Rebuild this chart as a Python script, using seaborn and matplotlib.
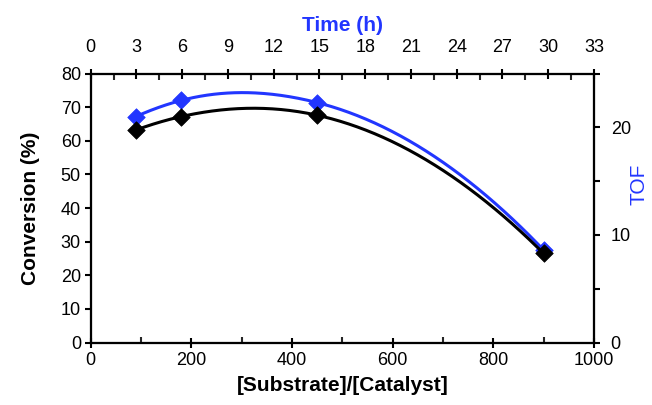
"""Conversion and TOF vs substrate/catalyst ratio (dual axes)."""

import matplotlib

matplotlib.use("Agg")

import matplotlib.pyplot as plt
import numpy as np
import pandas as pd
import seaborn as sns
from matplotlib.ticker import MultipleLocator

ratio = [90, 180, 450, 900]
conversion = [63.2, 67.2, 67.6, 26.5]
tof = [21.0, 22.5, 22.3, 8.6]

BLUE = "#2236ff"


def smooth_curve(x, y, n=80):
    """Smoothed line through the points (cubic Hermite, weighted slopes)."""
    x = np.asarray(x, float)
    y = np.asarray(y, float)
    h = np.diff(x)
    s = np.diff(y) / h
    m = np.empty_like(y)
    m[1:-1] = (h[1:] * s[:-1] + h[:-1] * s[1:]) / (h[:-1] + h[1:])
    # quadratic end conditions
    m[0] = 2 * s[0] - m[1]
    m[-1] = 2 * s[-1] - m[-2]
    xs, ys = [], []
    for i in range(len(h)):
        t = np.linspace(0, 1, n)
        h00 = 2 * t**3 - 3 * t**2 + 1
        h10 = t**3 - 2 * t**2 + t
        h01 = -2 * t**3 + 3 * t**2
        h11 = t**3 - t**2
        seg = h00 * y[i] + h10 * h[i] * m[i] + h01 * y[i + 1] + h11 * h[i] * m[i + 1]
        xs.append(x[i] + t * h[i])
        ys.append(seg)
    return np.concatenate(xs), np.concatenate(ys)


sns.set_theme(style="ticks")
plt.rcParams["font.family"] = ["Liberation Sans", "DejaVu Sans"]
plt.rcParams.update({"font.size": 13, "text.color": "black", "axes.labelcolor": "black"})

fig = plt.figure(figsize=(6.52, 4.05), dpi=100)
ax = fig.add_axes([0.139, 0.154, 0.772, 0.6645])
ax_tof = ax.twinx()
ax_time = ax.twiny()
ax.set_zorder(ax_tof.get_zorder() + 1)
ax.patch.set_visible(False)

# TOF (blue, right axis)
tx, ty = smooth_curve(ratio, tof)
sns.lineplot(data=pd.DataFrame({"x": tx, "y": ty}), x="x", y="y", ax=ax_tof,
             color=BLUE, linewidth=2.2, sort=False, estimator=None)
sns.scatterplot(x=ratio, y=tof, ax=ax_tof, marker="D", s=80, color=BLUE,
                edgecolor=BLUE, linewidth=0.5, zorder=5)

# conversion (black, left axis)
cx, cy = smooth_curve(ratio, conversion)
sns.lineplot(data=pd.DataFrame({"x": cx, "y": cy}), x="x", y="y", ax=ax,
             color="black", linewidth=2.2, sort=False, estimator=None)
sns.scatterplot(x=ratio, y=conversion, ax=ax, marker="D", s=80, color="black",
                edgecolor="black", linewidth=0.5, zorder=5)

# bottom / left
ax.set_xlim(0, 1000)
ax.set_ylim(0, 80)
ax.xaxis.set_major_locator(MultipleLocator(200))
ax.xaxis.set_minor_locator(MultipleLocator(100))
ax.yaxis.set_major_locator(MultipleLocator(10))
ax.tick_params(axis="x", which="major", direction="inout", length=7, width=1.5,
               labelsize=13, pad=3, colors="black")
ax.tick_params(axis="x", which="minor", direction="in", length=4, width=1.5)
ax.tick_params(axis="y", which="major", direction="out", length=4, width=1.5,
               labelsize=13, pad=3, colors="black")
ax.set_xlabel("[Substrate]/[Catalyst]", fontsize=15, fontweight="bold",
              color="black", labelpad=5)
ax.set_ylabel("Conversion (%)", fontsize=15, fontweight="bold",
              color="black", labelpad=15)

# right axis (TOF)
ax_tof.set_ylim(0, 25)
ax_tof.yaxis.set_major_locator(MultipleLocator(10))
ax_tof.yaxis.set_minor_locator(MultipleLocator(5))
ax_tof.tick_params(axis="y", which="both", direction="out", length=4, width=1.5,
                   labelsize=13, pad=8, colors="black")
ax_tof.set_ylabel("TOF", fontsize=15, color=BLUE, rotation=90, va="center", ha="center")
ax_tof.yaxis.set_label_coords(1.089, 0.59)

# top axis (time)
ax_time.set_xlim(0, 33)
ax_time.xaxis.set_major_locator(MultipleLocator(3))
ax_time.xaxis.set_minor_locator(MultipleLocator(1.5))
ax_time.tick_params(axis="x", which="major", direction="inout", length=7, width=1.5,
                    labelsize=13, pad=9, colors="black")
ax_time.tick_params(axis="x", which="minor", direction="in", length=4, width=1.5)
ax_time.set_xlabel("Time (h)", fontsize=15, fontweight="bold", color=BLUE, labelpad=6)

for a in (ax, ax_tof, ax_time):
    for spine in a.spines.values():
        spine.set_linewidth(1.5)
        spine.set_color("black")
        spine.set_visible(True)
    a.grid(False)

fig.savefig("out.png", dpi=100)
